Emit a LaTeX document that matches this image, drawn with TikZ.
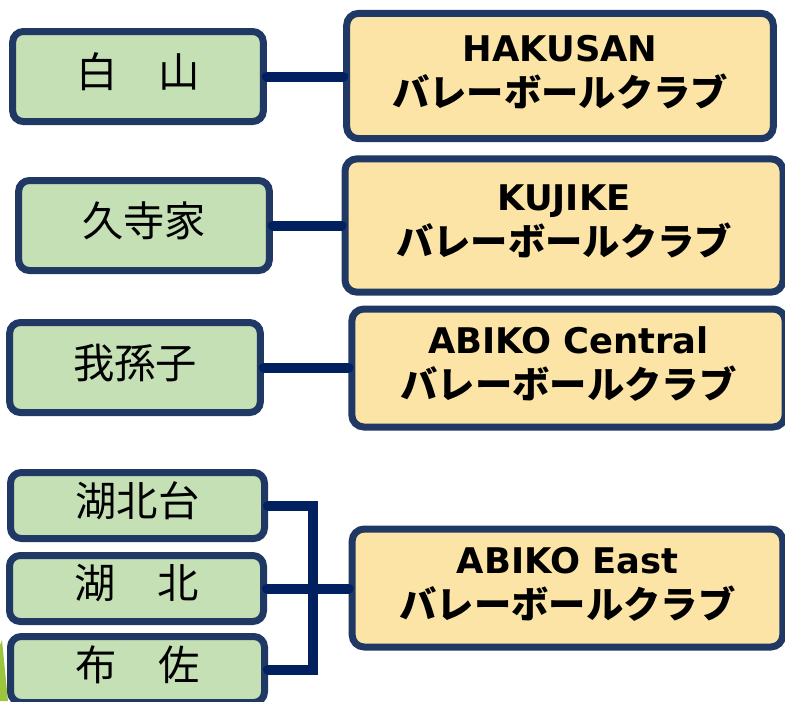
\documentclass[tikz,border=0pt]{standalone}
\usepackage{fontspec}
\newfontfamily\jpfont{Noto Sans CJK JP}
\newfontfamily\latfont{DejaVu Sans}

\definecolor{rim}{HTML}{203864}
\definecolor{navy}{HTML}{002060}
\definecolor{townfill}{HTML}{C5E0B4}
\definecolor{clubfill}{HTML}{FBE4A6}
\definecolor{leaf}{HTML}{9BC53D}

\tikzset{
  town/.style={draw=rim, line width=5.25pt, fill=townfill, rounded corners=8pt,
    inner sep=0pt, minimum width=188pt, minimum height=67.5pt, text depth=10pt,
    font=\jpfont\fontsize{31}{36}\selectfont},
  townsmall/.style={town, minimum width=190.5pt, minimum height=49.5pt},
  club/.style={draw=rim, line width=5.25pt, fill=clubfill, rounded corners=9pt,
    inner sep=0pt, align=center, text depth=8pt,
    font=\jpfont\bfseries\fontsize{28}{34}\selectfont},
  link/.style={draw=navy, line width=7.5pt, line cap=round}
}
\newcommand\latin[1]{{\latfont\fontsize{26.5}{34}\selectfont #1}}

\begin{document}
\begin{tikzpicture}[x=0.75pt, y=-0.75pt]
  \clip (0,0) rectangle (785,701);

  % coin vert en bas a gauche
  \fill[leaf] (0,645) -- (2,640) -- (8,701) -- (0,701) -- cycle;

  % quartiers
  \node[town] (hakusan) at (138,76.5) {白　山};
  \node[town] (kujike) at (144,225.5) {久寺家};
  \node[town] (abiko) at (135,367.5) {我孫子};
  \node[townsmall] (kohokudai) at (137.5,505.5) {湖北台};
  \node[townsmall] (kohoku) at (136.5,588.5) {湖　北};
  \node[townsmall] (fusa) at (137.5,669.5) {布　佐};

  % clubs
  \node[club, minimum width=320pt, minimum height=94pt] (clubH) at (560,76)
    {\latin{HAKUSAN}\\バレーボールクラブ};
  \node[club, minimum width=328.5pt, minimum height=100pt] (clubK) at (564,225.5)
    {\latin{KUJIKE}\\バレーボールクラブ};
  \node[club, minimum width=325pt, minimum height=88.5pt] (clubC) at (568.5,368)
    {\latin{ABIKO Central}\\バレーボールクラブ};
  \node[club, minimum width=323pt, minimum height=88.5pt] (clubE) at (567.5,588)
    {\latin{ABIKO East}\\バレーボールクラブ};

  % liaisons
  \draw[link] (hakusan.east) -- (hakusan.east -| clubH.west);
  \draw[link] (kujike.east) -- (clubK.west);
  \draw[link] (abiko.east) -- (abiko.east -| clubC.west);
  \coordinate (bus) at (313,588.5);
  \draw[link] (kohokudai.east) -| (bus) |- (fusa.east);
  \draw[link] (kohoku.east) -- (kohoku.east -| clubE.west);
\end{tikzpicture}
\end{document}
